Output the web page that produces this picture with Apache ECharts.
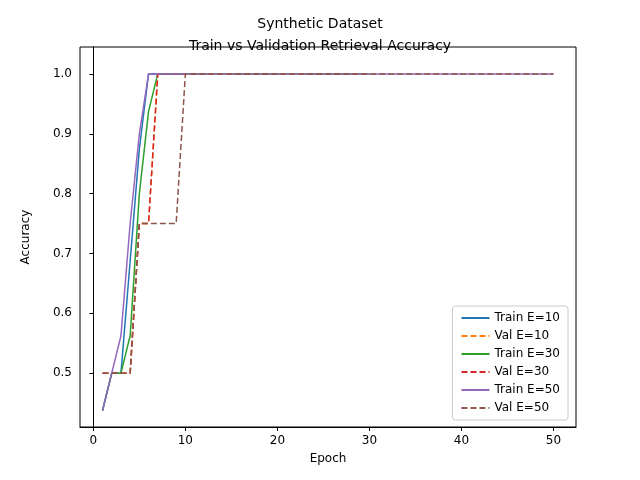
<!DOCTYPE html><html><head><meta charset="utf-8"><script src="https://cdn.jsdelivr.net/npm/echarts@6/dist/echarts.min.js"></script></head><body style="margin:0"><div id="c" style="width:640px;height:480px"></div><script>
const train10=[0.4375,0.5,0.5,0.6875,0.875,1,1,1,1,1];
const val10=[0.5,0.5,0.5,0.5,0.75,0.75,1,1,1,1];
const train30=[0.4375,0.5,0.5,0.5625,0.8,0.9375,1];
const val30=[0.5,0.5,0.5,0.5,0.75,0.75,1];
const train50=[0.4375,0.5,0.5625,0.75,0.9,1];
const val50=[0.5,0.5,0.5,0.5,0.75,0.75,0.75,0.75,0.75,1];
const xTicks=[0,10,20,30,40,50];
const yTicks=[0.5,0.6,0.7,0.8,0.9,1.0];
function ext(a,n){const r=a.slice();while(r.length<n)r.push(r[r.length-1]);return r.map((v,i)=>[i+1,v]);}
const series=[
['Train E=10',ext(train10,10),'#1f77b4','solid'],
['Val E=10',ext(val10,10),'#ff7f0e','dashed'],
['Train E=30',ext(train30,30),'#2ca02c','solid'],
['Val E=30',ext(val30,30),'#d62728','dashed'],
['Train E=50',ext(train50,50),'#9467bd','solid'],
['Val E=50',ext(val50,50),'#8c564b','dashed']].map(s=>({name:s[0],type:'line',data:s[1],showSymbol:false,symbol:'none',color:s[2],lineStyle:{width:1.5,type:s[3]==='dashed'?[6,3]:'solid'}}));
const tf={fontFamily:'DejaVu Sans',fontSize:12,color:'#000'};
echarts.init(document.getElementById('c')).setOption({animation:false,
title:{text:'Synthetic Dataset\nTrain vs Validation Retrieval Accuracy',left:'center',top:8,textStyle:{fontFamily:'DejaVu Sans',fontSize:14,fontWeight:'normal',lineHeight:22,color:'#000'}},
legend:{orient:'vertical',right:72,bottom:60,itemWidth:28,itemHeight:10,itemStyle:{opacity:0},backgroundColor:'#fff',borderColor:'#ccc',borderWidth:1,borderRadius:3,padding:[6,8],itemGap:6,textStyle:{fontFamily:'DejaVu Sans',fontSize:12,color:'#000'}},
grid:{left:80,right:64,top:47,bottom:53,show:true,borderColor:'#000',borderWidth:1},
xAxis:{type:'value',min:-1.45,max:52.45,name:'Epoch',nameLocation:'middle',nameGap:26,nameTextStyle:tf,axisLabel:Object.assign({customValues:xTicks},tf),axisLine:{lineStyle:{color:'#000'}},axisTick:{show:true,customValues:xTicks,length:4,lineStyle:{color:'#000'}},splitLine:{show:false}},
yAxis:{type:'value',min:0.41,max:1.045,name:'Accuracy',nameLocation:'middle',nameGap:48,nameTextStyle:tf,axisLabel:Object.assign({customValues:yTicks,formatter:v=>v.toFixed(1)},tf),axisLine:{show:true,lineStyle:{color:'#000'}},axisTick:{show:true,customValues:yTicks,length:4,lineStyle:{color:'#000'}},splitLine:{show:false}},
series:series});
</script></body></html>
